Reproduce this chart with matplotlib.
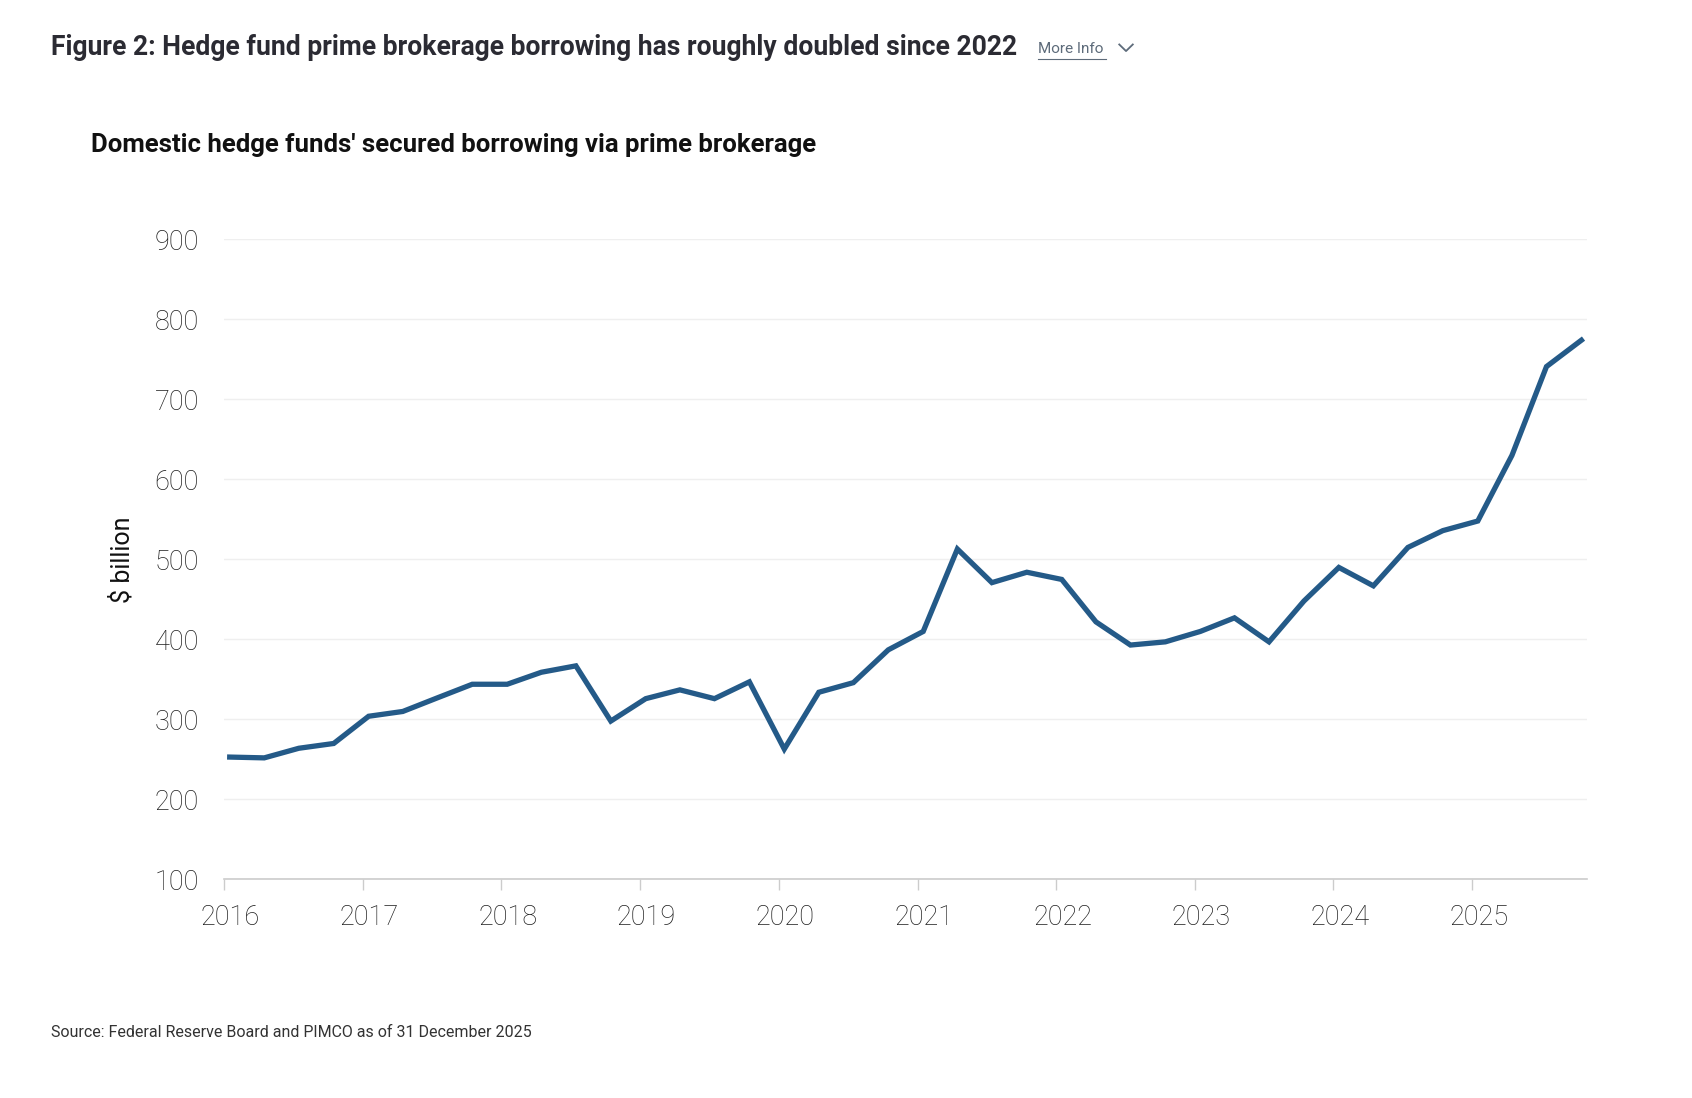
import matplotlib.pyplot as plt
import matplotlib.dates as mdates
import matplotlib.transforms as mtransforms
import pandas as pd
from matplotlib.lines import Line2D

quarters = pd.date_range("2016-01-01", periods=40, freq="QS") + pd.Timedelta(days=15)
borrowing = [
    253, 252, 264, 270, 304, 310, 327, 344, 344, 359,
    367, 298, 326, 337, 326, 347, 263, 334, 346, 387,
    410, 513, 471, 484, 475, 422, 393, 397, 410, 427,
    397, 448, 490, 467, 515, 536, 548, 630, 741, 774,
]
year_ticks = list(range(2016, 2026))
y_ticks = list(range(100, 1000, 100))


def main():
    fig = plt.figure(figsize=(16.92, 10.98), dpi=100)
    ax = fig.add_axes([0.1324, 0.199, 0.8056, 0.583])

    ax.plot(quarters, borrowing, color="#245a88", lw=3.8, solid_joinstyle="miter")

    ax.set_xlim(pd.Timestamp("2016-01-01"), pd.Timestamp("2025-10-31"))
    ax.set_ylim(100, 900)
    ax.set_xticks([pd.Timestamp(f"{y}-01-01") for y in year_ticks])
    ax.xaxis.set_major_formatter(mdates.DateFormatter("%Y"))
    ax.set_yticks(y_ticks)

    ax.grid(axis="y", color="#efefef", lw=1)
    ax.set_axisbelow(True)
    for s in ["top", "right", "left"]:
        ax.spines[s].set_visible(False)
    ax.spines["bottom"].set_color("#cccccc")
    ax.spines["bottom"].set_linewidth(1.2)
    ax.tick_params(axis="y", length=0, pad=18, labelsize=19.5, labelcolor="#1e1e1e")
    ax.tick_params(axis="x", length=8, width=1, color="#cccccc", pad=9.5,
                   labelsize=19.5, labelcolor="#1e1e1e")
    shift = mtransforms.ScaledTranslation(6.5 / 100, 0, fig.dpi_scale_trans)
    for lab in ax.get_xticklabels():
        lab.set_transform(lab.get_transform() + shift)
    for lab in ax.get_xticklabels() + ax.get_yticklabels():
        lab.set_family("Roboto")
        lab.set_fontweight("light")

    ax.set_ylabel("$ billion", fontsize=18, family="Roboto", fontweight="normal", color="#111111")
    ax.yaxis.set_label_coords(-0.066, 0.5)

    fig.text(0.030, 0.9565, "Figure 2: Hedge fund prime brokerage borrowing has roughly doubled since 2022",
             fontsize=19.1, fontweight="bold", family="Roboto", color="#2b2b33", va="center")
    fig.text(0.6135, 0.9555, "More Info", fontsize=11, family="Roboto", color="#5d6b7a", va="center")
    fig.add_artist(Line2D([0.6135, 0.6535], [0.9465, 0.9465], color="#5d6b7a", lw=0.8))
    fig.add_artist(Line2D([0.6615, 0.6655, 0.6695], [0.9595, 0.9535, 0.9595], color="#5d6b7a", lw=1.3))

    fig.text(0.0535, 0.8675, "Domestic hedge funds' secured borrowing via prime brokerage",
             fontsize=18.5, fontweight="bold", family="Roboto", color="#111111", va="center")

    fig.text(0.030, 0.0595, "Source: Federal Reserve Board and PIMCO as of 31 December 2025",
             fontsize=11.5, family="Roboto", color="#333333", va="center")

    fig.savefig("out.png", dpi=100, facecolor="white")


if __name__ == "__main__":
    main()
